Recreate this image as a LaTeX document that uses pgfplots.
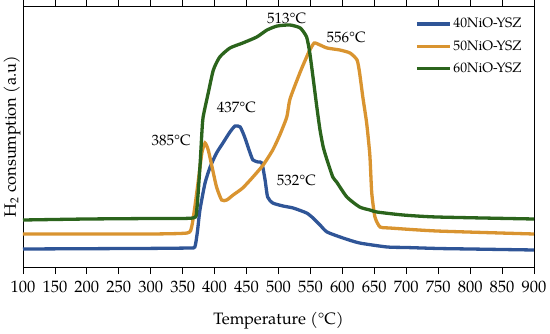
\documentclass[border=0pt]{standalone}
\usepackage{fontspec}
\setmainfont{TeX Gyre Pagella}
\usepackage{pgfplots}
\pgfplotsset{compat=1.18}
\definecolor{cblue}{RGB}{47,85,151}
\definecolor{corange}{RGB}{217,148,48}
\definecolor{cgreen}{RGB}{43,100,28}
\begin{document}
\fontsize{14.5pt}{17pt}\selectfont
\begin{tikzpicture}
\path[use as bounding box] (0pt,0pt) rectangle (550pt,333pt);
\begin{axis}[
  at={(23pt,66pt)}, anchor=south west,
  scale only axis, width=511pt, height=261pt,
  xmin=100, xmax=900, ymin=0, ymax=261,
  xtick={100,150,...,900}, ytick=\empty,
  tick align=outside, major tick length=7pt,
  tick style={black, line width=0.8pt},
  axis line style={line width=0.8pt},
  /pgf/number format/assume math mode=true,
  /pgf/number format/1000 sep={},
  ticklabel style={font=\fontsize{16.5pt}{19pt}\selectfont},
  xticklabel style={yshift=-2pt},
  xlabel={Temperature (°C)},
  ylabel={H\textsubscript{2} consumption (a.u)},
  label style={font=\fontsize{16.5pt}{19pt}\selectfont},
  xlabel style={at={(axis description cs:0.5,-0.207)}, anchor=center},
  ylabel style={at={(axis description cs:-0.0215,0.5)}, anchor=center},
  legend style={at={(axis description cs:0.767,0.962)}, anchor=north west, draw=none, fill=none, inner sep=0pt,
     font=\fontsize{13.7pt}{16pt}\selectfont, row sep=6.5pt},
  legend cell align=left,
  legend image code/.code={\draw[#1, line width=3.3pt] (0pt,0pt) -- (33pt,0pt);},
  every axis plot/.append style={line width=3.3pt, smooth, tension=0.35},
]
\addplot[cblue] coordinates {
(100,18) (200,18.3) (300,18.6) (360,19) (369,20) (373,35) (377,57) (385,84) (393,100) (403,114) (413,124) (424,135) (432,141) (440,140) (447,130) (455,115) (460,107) (468,105) (474,104) (479,87) (483,70) (491,64) (507,61) (523,59) (544,54) (554,49) (565,42) (576,35) (601,29) (627,24) (670,20) (700,19.5) (750,18.5) (800,18) (900,17)
};
\addlegendentry{40NiO-YSZ}
\addplot[corange] coordinates {
(100,33) (200,33) (300,33) (357,34) (364,40) (369,60) (374,84) (380,114) (385,124) (390,117) (396,100) (403,80) (411,67) (419,67) (429,72) (444,79) (460,90) (476,102) (491,117) (502,132) (513,150) (518,168) (534,195) (544,210) (549,217) (556,224) (565,222) (576,219) (596,217) (612,214) (623,207) (627,194) (632,170) (638,144) (643,112) (646,74) (651,50) (659,40) (674,39) (748,36) (900,33)
};
\addlegendentry{50NiO-YSZ}
\addplot[cgreen] coordinates {
(100,47) (200,48) (300,48.5) (366,49) (372,57) (377,100) (380,134) (382,150) (390,174) (398,197) (408,210) (424,219) (444,224) (466,230) (482,237) (498,241) (518,242) (534,239) (544,230) (549,214) (554,190) (560,160) (565,137) (570,120) (576,107) (585,90) (591,85) (607,70) (627,60) (643,57) (654,55) (695,52) (748,50) (900,48)
};
\addlegendentry{60NiO-YSZ}
\node[font=\fontsize{15pt}{17pt}\selectfont] at (axis cs:513,249) {513°C};
\node[font=\fontsize{15pt}{17pt}\selectfont] at (axis cs:606,230) {556°C};
\node[font=\fontsize{15pt}{17pt}\selectfont] at (axis cs:434,160) {437°C};
\node[font=\fontsize{15pt}{17pt}\selectfont] at (axis cs:332,127) {385°C};
\node[font=\fontsize{15pt}{17pt}\selectfont] at (axis cs:528,87) {532°C};
\end{axis}
\end{tikzpicture}
\end{document}
